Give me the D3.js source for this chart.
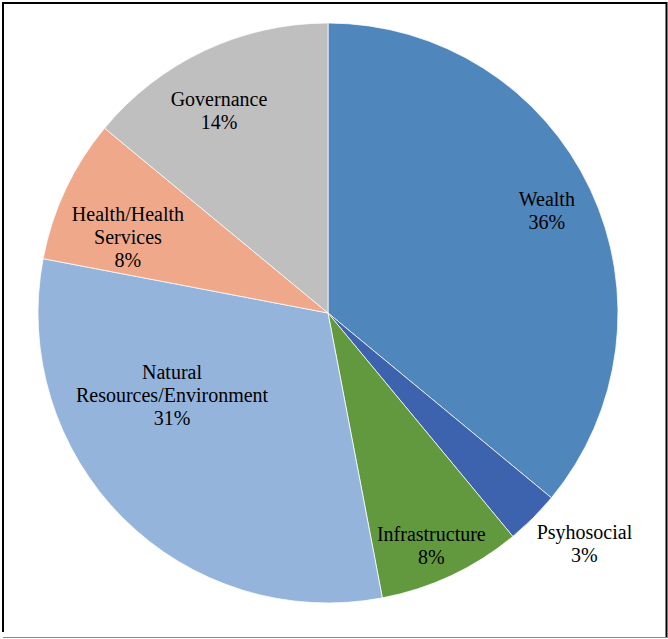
<!DOCTYPE html>
<html>
<head>
<meta charset="utf-8">
<script src="https://cdn.jsdelivr.net/npm/d3@7"></script>
<style>
  html, body { margin: 0; padding: 0; background: #fff; }
  svg { display: block; }
</style>
</head>
<body>
<svg id="chart" width="668" height="639"></svg>
<script>
// Share of indicators by domain
const categories = ["Wealth", "Psyhosocial", "Infrastructure", "Natural Resources/Environment", "Health/Health Services", "Governance"];
const shares = [36, 3, 8, 31, 8, 14];
// Label text split into lines
const labelLines = [
  ["Wealth"],
  ["Psyhosocial"],
  ["Infrastructure"],
  ["Natural", "Resources/Environment"],
  ["Health/Health", "Services"],
  ["Governance"]
];
const colors = ["#4f86bc", "#3e63ae", "#62993f", "#95b4dc", "#f0a88b", "#bfbfbf"];

// Label placement: radius as a fraction of the pie radius, and angular nudge in degrees
const labelRadius = [0.834, 1.19, 0.876, 0.608, 0.738, 0.793];
const labelShift = [0, -3, 1.2, 17.2, -4.4, -3.1];

const svg = d3.select("#chart");
const FONT = "'Liberation Serif', 'Times New Roman', 'DejaVu Serif', serif";

// Frame
svg.append("line").attr("x1", 2).attr("x2", 667).attr("y1", 3).attr("y2", 3)
  .attr("stroke", "#000").attr("stroke-width", 2);
svg.append("line").attr("x1", 3).attr("x2", 3).attr("y1", 2).attr("y2", 632)
  .attr("stroke", "#000").attr("stroke-width", 2);
svg.append("line").attr("x1", 666.5).attr("x2", 666.5).attr("y1", 2).attr("y2", 638)
  .attr("stroke", "#000").attr("stroke-width", 2);
svg.append("line").attr("x1", 3).attr("x2", 667).attr("y1", 637.5).attr("y2", 637.5)
  .attr("stroke", "#888").attr("stroke-width", 1);

const cx = 328, cy = 313, R = 290;
const g = svg.append("g").attr("transform", `translate(${cx},${cy})`);

const data = categories.map((c, i) => ({ name: c, value: shares[i], i }));
const pie = d3.pie().value(d => d.value).sort(null);
const arcs = pie(data);
const arc = d3.arc().innerRadius(0).outerRadius(R);

g.selectAll("path.slice")
  .data(arcs)
  .join("path")
  .attr("class", "slice")
  .attr("d", arc)
  .attr("fill", d => colors[d.data.i])
  .attr("stroke", "#fff")
  .attr("stroke-width", 0.75);

const lineH = 23;
const deg = Math.PI / 180;
arcs.forEach(a => {
  const i = a.data.i;
  const mid = (a.startAngle + a.endAngle) / 2 + labelShift[i] * deg;
  const r = R * labelRadius[i];
  const pos = d3.arc().innerRadius(r).outerRadius(r).centroid({ startAngle: mid, endAngle: mid });
  const lines = labelLines[i].concat([d3.format(".0f")(a.data.value) + "%"]);
  const first = pos[1] - (lines.length - 1) * lineH / 2 + 7;
  const t = g.append("text")
    .attr("text-anchor", "middle")
    .attr("font-family", FONT)
    .attr("font-size", 20)
    .attr("fill", "#000");
  lines.forEach((s, k) => {
    t.append("tspan").attr("x", pos[0]).attr("y", first + k * lineH).text(s);
  });
});
</script>
</body>
</html>
